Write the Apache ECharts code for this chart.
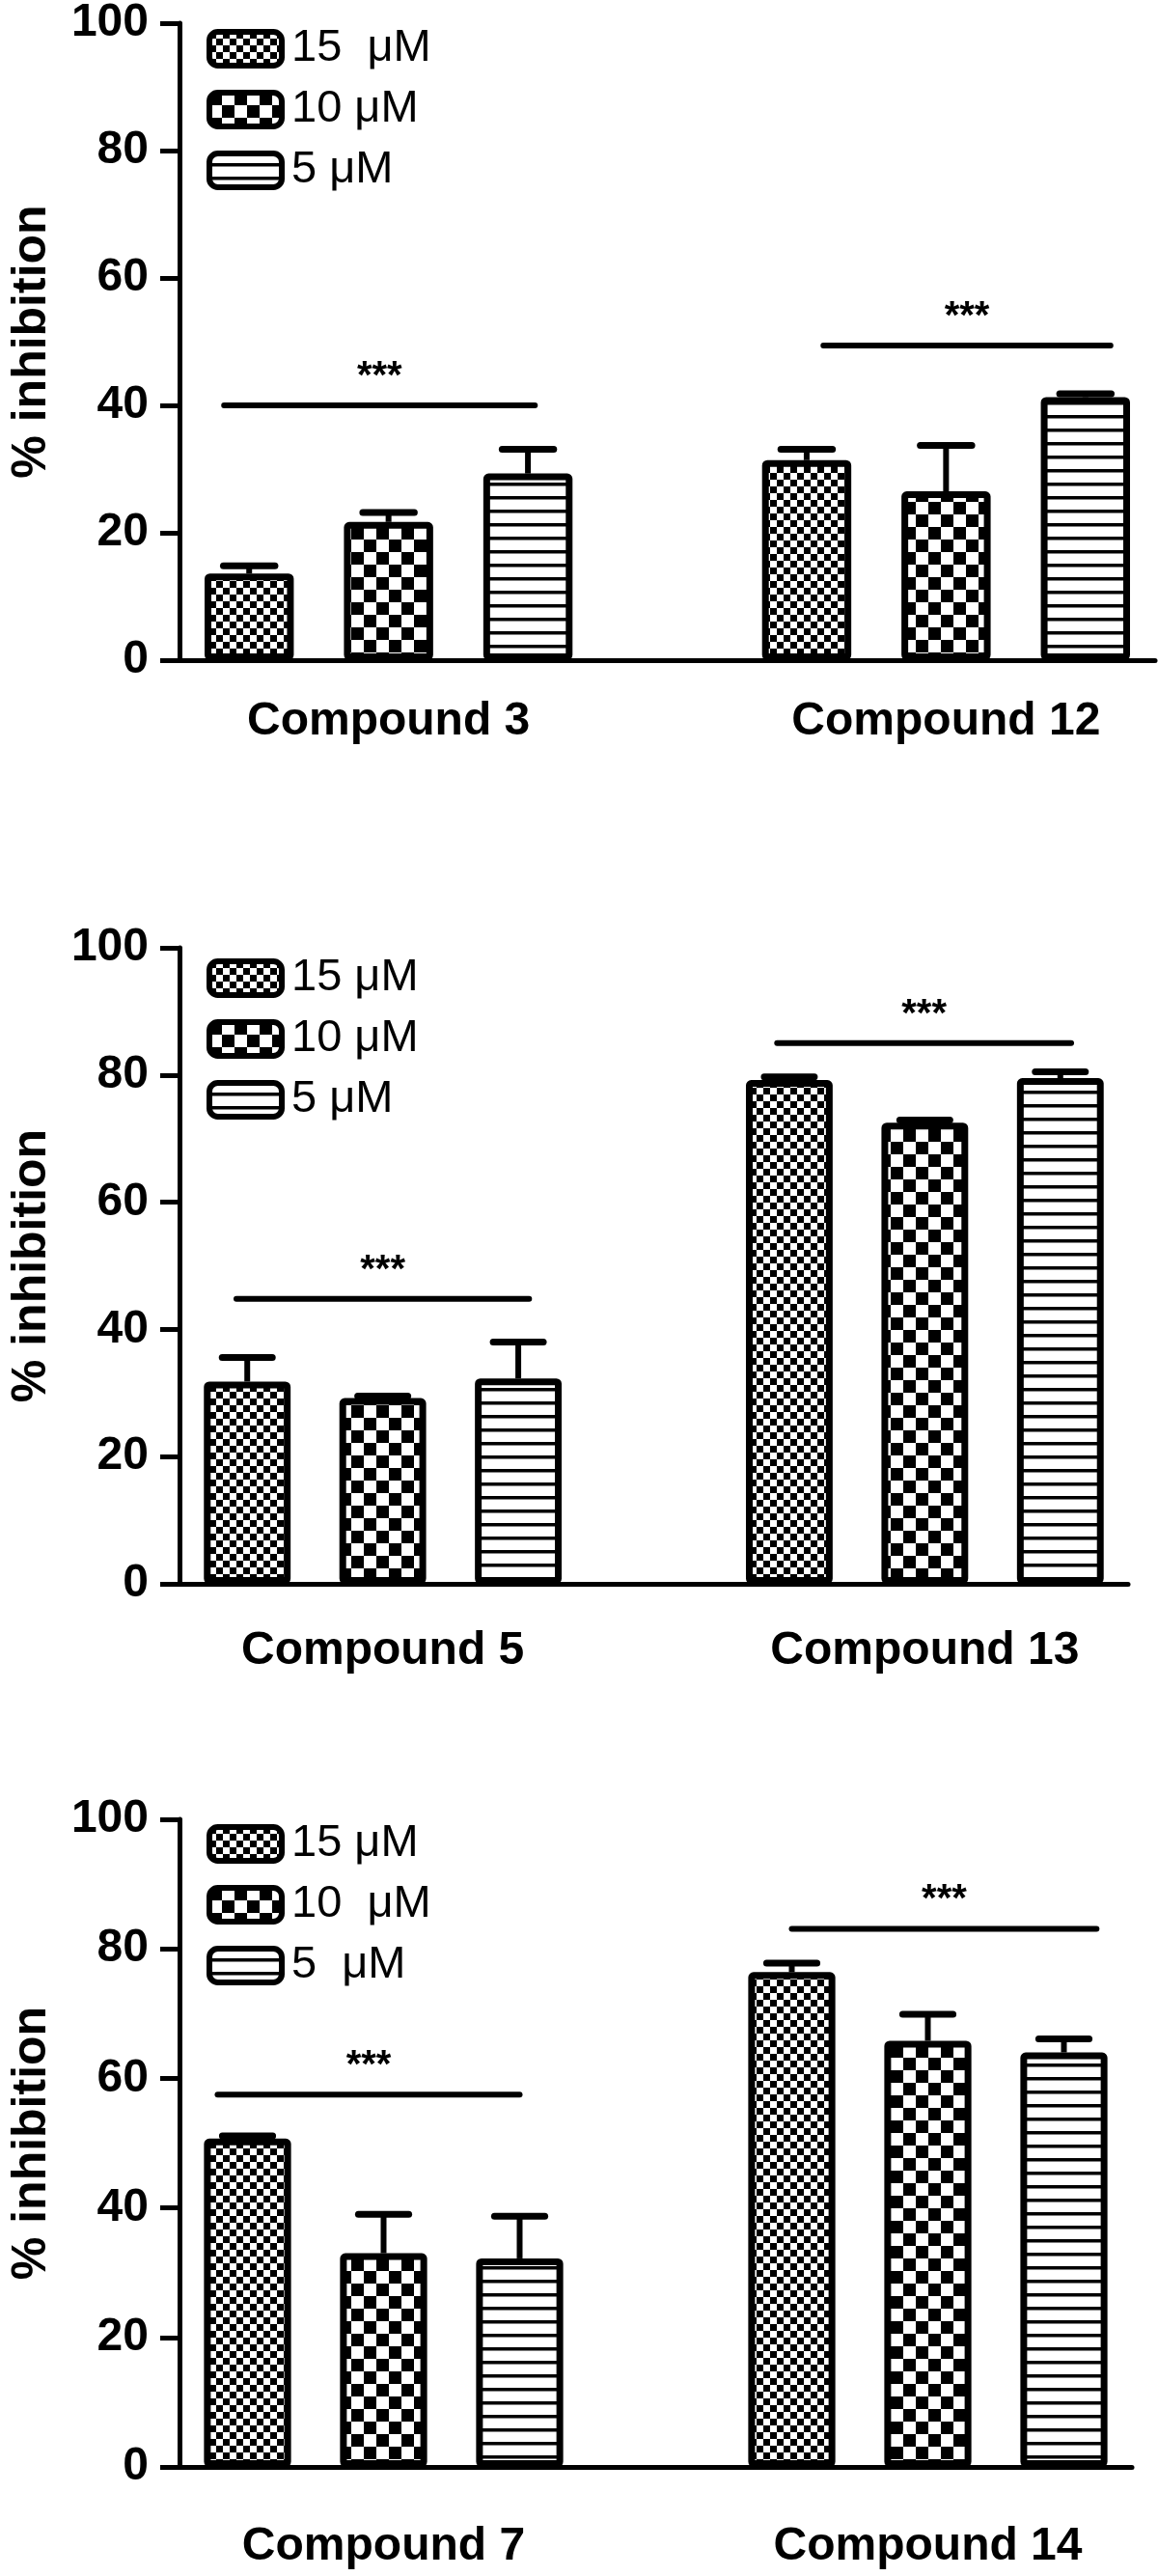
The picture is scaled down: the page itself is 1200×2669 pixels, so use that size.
<!DOCTYPE html>
<html>
<head>
<meta charset="utf-8">
<script src="https://cdn.jsdelivr.net/npm/echarts@6/dist/echarts.min.js"></script>
<style>
  html, body { margin: 0; padding: 0; background: #fff; }
  #chart { width: 1200px; height: 2669px; }
</style>
</head>
<body>
<div id="chart"></div>
<script>
// ---- data ----
const compounds = ['Compound 3', 'Compound 12', 'Compound 5', 'Compound 13', 'Compound 7', 'Compound 14'];
const mean15 = [13.6, 31.4, 31.8, 79.2, 50.7, 76.4];
const err15  = [1.2, 1.7, 3.8, 0.5, 0.4, 1.4];
const mean10 = [21.7, 26.5, 29.2, 72.5, 33.0, 65.8];
const err10  = [1.5, 7.2, 0.3, 0.4, 6.0, 4.1];
const mean5  = [29.3, 41.3, 32.3, 79.5, 32.2, 64.0];
const err5   = [3.8, 0.5, 5.7, 1.0, 6.5, 2.1];
// significance bars: level (% inhibition) and extent in category units relative to the group's first bar
const sigLevel = [40.0, 49.4, 44.8, 85.0, 57.5, 83.1];
const sigStart = [-0.18, 0.12, -0.08, -0.09, -0.22, 0.0];
const sigEnd   = [2.05, 2.18, 2.08, 2.08, 2.0, 2.24];
const sigText  = ['***', '***', '***', '***', '***', '***'];
const legendLabels = [
  ['15  \u03bcM', '10 \u03bcM', '5 \u03bcM'],
  ['15 \u03bcM', '10 \u03bcM', '5 \u03bcM'],
  ['15 \u03bcM', '10  \u03bcM', '5  \u03bcM']
];
const yMin = 0, yMax = 100, yStep = 20;
const yName = '% inhibition';

// ---- patterns ----
function makePattern(kind) {
  const c = document.createElement('canvas');
  let w = 14, h = 14;
  if (kind === 'coarse') { w = 26; h = 26; }
  c.width = w; c.height = h;
  const ctx = c.getContext('2d');
  ctx.fillStyle = '#fff'; ctx.fillRect(0, 0, w, h);
  ctx.fillStyle = '#000';
  if (kind === 'fine') { ctx.fillRect(0, 0, 7, 7); ctx.fillRect(7, 7, 7, 7); }
  else if (kind === 'coarse') { ctx.fillRect(0, 0, 13, 13); ctx.fillRect(13, 13, 13, 13); }
  else { ctx.fillRect(0, 10, 14, 3.5); }
  return { image: c, repeat: 'repeat' };
}
const patterns = [makePattern('fine'), makePattern('coarse'), makePattern('lines')];
const means = [mean15, mean10, mean5];
const errs = [err15, err10, err5];

const FONT = 'Liberation Sans, Arial, sans-serif';
const NARROW = 'Liberation Sans Narrow, Arial Narrow, Liberation Sans, sans-serif';
const grids = [
  { left: 171, top: 18, width: 1026, height: 666 },
  { left: 171, top: 982, width: 998, height: 659 },
  { left: 172, top: 1885, width: 1001, height: 671 }
];
const labelMargin = [40, 46, 59];
const legendTop = [22, 985, 1882];

const option = {
  animation: false,
  backgroundColor: '#fff',
  grid: grids.map(g => Object.assign({ containLabel: false }, g)),
  legend: legendLabels.map((labels, i) => ({
    data: labels,
    orient: 'vertical',
    left: 209,
    top: legendTop[i],
    itemWidth: 75,
    itemHeight: 35,
    itemGap: 16,
    icon: 'roundRect',
    selectedMode: false,
    itemStyle: { borderColor: '#000', borderWidth: 6 },
    textStyle: { fontSize: 47, fontFamily: FONT, color: '#000', padding: [0, 0, 0, 5] }
  })),
  xAxis: [0, 1, 2].map(i => ({
    type: 'category',
    gridIndex: i,
    data: ['', compounds[2 * i], '', '', '', compounds[2 * i + 1], ''],
    boundaryGap: true,
    axisLine: { lineStyle: { color: '#000', width: 5 } },
    axisTick: { alignWithLabel: true, interval: 0, length: 18, lineStyle: { color: '#000', width: 5 } },
    axisLabel: { interval: 0, margin: labelMargin[i], fontSize: 48, fontWeight: 'bold', fontFamily: FONT, color: '#000' },
    splitLine: { show: false }
  })),
  yAxis: [0, 1, 2].map(i => ({
    type: 'value',
    gridIndex: i,
    min: yMin, max: yMax, interval: yStep,
    axisLine: { show: true, lineStyle: { color: '#000', width: 5 } },
    axisTick: { show: true, length: 20, lineStyle: { color: '#000', width: 5 } },
    axisLabel: { margin: 32, fontSize: 48, fontWeight: 'bold', fontFamily: NARROW, color: '#000' },
    splitLine: { show: false },
    name: yName,
    nameLocation: 'middle',
    nameGap: 128,
    nameTextStyle: { fontSize: 50, fontWeight: 'bold', fontFamily: FONT, color: '#000' }
  })),
  series: []
};

for (let i = 0; i < 3; i++) {
  for (let j = 0; j < 3; j++) {
    const d = ['-', '-', '-', '-', '-', '-', '-'];
    d[j] = means[j][2 * i];
    d[4 + j] = means[j][2 * i + 1];
    option.series.push({
      type: 'bar',
      name: legendLabels[i][j],
      xAxisIndex: i, yAxisIndex: i,
      data: d,
      barWidth: '64%',
      barGap: '-100%',
      itemStyle: { color: patterns[j], borderColor: '#000', borderWidth: 7, borderRadius: 2 },
      emphasis: { disabled: true },
      z: 2
    });
  }
  // error bars
  const eb = [];
  for (let g = 0; g < 2; g++) {
    for (let j = 0; j < 3; j++) {
      const k = 2 * i + g;
      eb.push([4 * g + j, means[j][k], means[j][k] + errs[j][k]]);
    }
  }
  option.series.push({
    type: 'custom',
    xAxisIndex: i, yAxisIndex: i,
    data: eb,
    encode: { x: 0, y: [1, 2] },
    z: 3,
    silent: true,
    renderItem: (params, api) => {
      const x = api.value(0);
      const p0 = api.coord([x, api.value(1)]);
      const p1 = api.coord([x, api.value(2)]);
      const half = api.size([1, 0])[0] * 0.185;
      return {
        type: 'group',
        children: [
          { type: 'line', shape: { x1: p0[0], y1: p0[1], x2: p1[0], y2: p1[1] }, style: { stroke: '#000', lineWidth: 6 } },
          { type: 'line', shape: { x1: p1[0] - half, y1: p1[1], x2: p1[0] + half, y2: p1[1] }, style: { stroke: '#000', lineWidth: 7, lineCap: 'round' } }
        ]
      };
    }
  });
  // significance lines
  const sg = [];
  for (let g = 0; g < 2; g++) {
    const k = 2 * i + g;
    sg.push([4 * g, sigLevel[k], sigStart[k], sigEnd[k], k]);
  }
  option.series.push({
    type: 'custom',
    xAxisIndex: i, yAxisIndex: i,
    data: sg,
    encode: { x: 0, y: 1 },
    z: 3,
    silent: true,
    renderItem: (params, api) => {
      const base = api.coord([api.value(0), api.value(1)]);
      const bw = api.size([1, 0])[0];
      const x1 = base[0] + api.value(2) * bw;
      const x2 = base[0] + api.value(3) * bw;
      const y = base[1];
      return {
        type: 'group',
        children: [
          { type: 'line', shape: { x1: x1, y1: y, x2: x2, y2: y }, style: { stroke: '#000', lineWidth: 6, lineCap: 'round' } },
          { type: 'text', style: { text: sigText[api.value(4)], x: (x1 + x2) / 2, y: y - 29, align: 'center', verticalAlign: 'middle', font: 'bold 40px ' + FONT, fill: '#000' } }
        ]
      };
    }
  });
}

const chart = echarts.init(document.getElementById('chart'), null, { renderer: 'canvas' });
chart.setOption(option);
</script>
</body>
</html>
